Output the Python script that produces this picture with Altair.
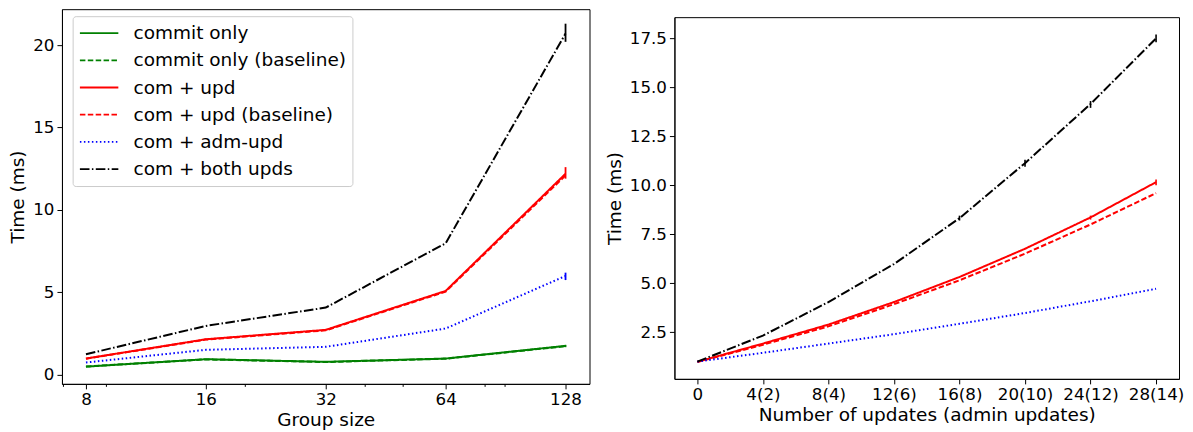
import altair as alt
import pandas as pd

FONT = "DejaVu Sans"
TICK_FS = 16.7
TITLE_FS = 18.5
LEGEND_FS = 18.5

# ---------------- Left panel data ----------------
group_sizes = [8, 16, 32, 64, 128]
left_series = ["commit only", "commit only (baseline)", "com + upd",
               "com + upd (baseline)", "com + adm-upd", "com + both upds"]
commit_only = [0.50, 0.95, 0.79, 0.99, 1.76]
commit_only_base = [0.51, 0.94, 0.78, 0.98, 1.74]
com_upd = [0.99, 2.16, 2.73, 5.09, 12.20]
com_upd_base = [0.98, 2.14, 2.70, 5.05, 12.10]
com_adm_upd = [0.75, 1.52, 1.70, 2.81, 6.00]
com_both_upds = [1.25, 2.97, 4.08, 7.98, 20.70]
left_colors = ["#008000", "#008000", "#ff0000", "#ff0000", "#0000ff", "#000000"]
left_dashes = [[1, 0], [5.5, 2.4], [1, 0], [5.5, 2.4], [1.5, 2.5], [9.6, 2.4, 1.5, 2.4]]

# error bars (left)
left_err_series = ["com + both upds", "com + upd", "com + adm-upd", "commit only"]
left_err_x = [128, 128, 128, 128]
left_err_lo = [20.2, 11.9, 5.75, 1.68]
left_err_hi = [21.3, 12.6, 6.2, 1.82]
left_minor_ticks = [7, 9, 20, 40, 50, 80, 90]

# ---------------- Right panel data ----------------
updates = [0, 4, 8, 12, 16, 20, 24, 28]
update_labels = ["0", "4(2)", "8(4)", "12(6)", "16(8)", "20(10)", "24(12)", "28(14)"]
right_series = ["com + upd", "com + upd (baseline)", "com + adm-upd", "com + both upds"]
r_com_upd = [0.99, 1.92, 2.89, 4.04, 5.32, 6.76, 8.36, 10.16]
r_com_upd_base = [0.98, 1.86, 2.80, 3.93, 5.15, 6.51, 8.00, 9.60]
r_com_adm_upd = [1.00, 1.45, 1.92, 2.40, 2.93, 3.48, 4.08, 4.72]
r_com_both_upds = [1.00, 2.33, 4.04, 5.98, 8.32, 11.13, 14.15, 17.50]
right_colors = ["#ff0000", "#ff0000", "#0000ff", "#000000"]
right_dashes = [[1, 0], [5.5, 2.4], [1.5, 2.5], [9.6, 2.4, 1.5, 2.4]]

right_err_series = ["com + both upds", "com + both upds", "com + both upds", "com + both upds",
                    "com + upd", "com + upd"]
right_err_x = [16, 20, 24, 28, 24, 28]
right_err_lo = [8.2, 10.95, 13.95, 17.3, 8.25, 10.0]
right_err_hi = [8.45, 11.3, 14.3, 17.7, 8.45, 10.3]

# ---------------- Build tables ----------------
left_vals = [commit_only, commit_only_base, com_upd, com_upd_base, com_adm_upd, com_both_upds]
left_df = pd.DataFrame([
    {"series": s, "size": x, "time": v, "order": i}
    for i, (s, vals) in enumerate(zip(left_series, left_vals))
    for x, v in zip(group_sizes, vals)
])
lcmap = dict(zip(left_series, left_colors))
left_err_df = pd.DataFrame({
    "series": left_err_series, "size": left_err_x, "lo": left_err_lo, "hi": left_err_hi,
    "col": [lcmap[s] for s in left_err_series],
})
left_minor_df = pd.DataFrame({"size": left_minor_ticks})

right_vals = [r_com_upd, r_com_upd_base, r_com_adm_upd, r_com_both_upds]
right_df = pd.DataFrame([
    {"series": s, "upd": x, "time": v}
    for s, vals in zip(right_series, right_vals)
    for x, v in zip(updates, vals)
])
rcmap = dict(zip(right_series, right_colors))
right_err_df = pd.DataFrame({
    "series": right_err_series, "upd": right_err_x, "lo": right_err_lo, "hi": right_err_hi,
    "col": [rcmap[s] for s in right_err_series],
})

label_expr = " : ".join(
    f"datum.value == {v} ? '{l}'" for v, l in zip(updates, update_labels)
) + " : ''"


def make_legend(x, y, row_pad):
    return alt.Legend(
        orient="none", legendX=x, legendY=y, title=None,
        symbolType="stroke", symbolSize=1480, symbolStrokeWidth=1.8,
        labelFontSize=LEGEND_FS, labelFont=FONT, labelColor="black",
        labelOffset=14, clipHeight=22, rowPadding=row_pad, padding=6,
        fillColor="white", strokeColor="#cccccc", cornerRadius=3,
        labelLimit=400,
    )


# ---------------- Left chart ----------------
lx_scale = alt.Scale(type="log", base=2, domain=[6.964, 147.03], nice=False)
ly_scale = alt.Scale(domain=[-0.545, 22.18], nice=False, zero=False)
left_legend = make_legend(10.7, 7.0, 5.2)

left_lines = alt.Chart(left_df).mark_line(strokeWidth=2, strokeCap="butt").encode(
    x=alt.X("size:Q", scale=lx_scale,
            axis=alt.Axis(values=group_sizes, title="Group size", format="d",
                          titlePadding=2)),
    y=alt.Y("time:Q", scale=ly_scale,
            axis=alt.Axis(values=[0, 5, 10, 15, 20], title="Time (ms)", titlePadding=5)),
    color=alt.Color("series:N", scale=alt.Scale(domain=left_series, range=left_colors),
                    legend=left_legend),
    strokeDash=alt.StrokeDash("series:N", scale=alt.Scale(domain=left_series, range=left_dashes),
                              legend=left_legend),
    order="order:Q",
)
left_err = alt.Chart(left_err_df).mark_rule(strokeWidth=1.8).encode(
    x=alt.X("size:Q", scale=lx_scale, axis=None),
    y=alt.Y("lo:Q", scale=ly_scale),
    y2="hi:Q",
    color=alt.Color("col:N", scale=None),
)
left_minor = alt.Chart(left_minor_df).mark_point(opacity=0).encode(
    x=alt.X("size:Q", scale=lx_scale,
            axis=alt.Axis(values=left_minor_ticks, labels=False, tickSize=2.5,
                          domain=False, title=None, orient="bottom")),
)
left = alt.layer(left_lines, left_err, left_minor).resolve_axis(x="independent").properties(
    width=528, height=375
)

# ---------------- Right chart ----------------
rx_scale = alt.Scale(domain=[-1.4, 29.4], nice=False, zero=False)
ry_scale = alt.Scale(domain=[0.12, 18.58], nice=False, zero=False)
right_legend = make_legend(9, 9.3, 4.8)

right_lines = alt.Chart(right_df).mark_line(strokeWidth=2, strokeCap="butt").encode(
    x=alt.X("upd:Q", scale=rx_scale,
            axis=alt.Axis(values=updates, labelExpr=label_expr,
                          title="Number of updates (admin updates)", titlePadding=2)),
    y=alt.Y("time:Q", scale=ry_scale,
            axis=alt.Axis(values=[2.5, 5, 7.5, 10, 12.5, 15, 17.5], format=".1f",
                          title="Time (ms)", titlePadding=5)),
    color=alt.Color("series:N", scale=alt.Scale(domain=right_series, range=right_colors),
                    legend=right_legend),
    strokeDash=alt.StrokeDash("series:N", scale=alt.Scale(domain=right_series, range=right_dashes),
                              legend=right_legend),
)
right_err = alt.Chart(right_err_df).mark_rule(strokeWidth=1.6).encode(
    x=alt.X("upd:Q", scale=rx_scale),
    y=alt.Y("lo:Q", scale=ry_scale),
    y2="hi:Q",
    color=alt.Color("col:N", scale=None),
)
right = alt.layer(right_lines, right_err).properties(width=505, height=362)

# invisible spacer to push the right panel down a few pixels
spacer = alt.Chart(pd.DataFrame({"a": [0]})).mark_rule(strokeWidth=0, opacity=0).encode(
    x=alt.value(0), y=alt.value(0), y2=alt.value(1)
).properties(width=1, height=1, view=alt.ViewBackground(stroke="transparent"))

right_col = alt.vconcat(spacer, right, spacing=5)

chart = alt.hconcat(left, right_col, spacing=14).configure(
    font=FONT, padding=0,
).configure_view(
    stroke="black", strokeWidth=1,
).configure_axis(
    labelFont=FONT, titleFont=FONT, labelFontSize=TICK_FS, titleFontSize=TITLE_FS,
    titleFontWeight="normal", labelColor="black", titleColor="black",
    tickColor="black", domainColor="black", tickSize=5, labelPadding=3, grid=False,
)

chart.save("out.html", embed_options={"renderer": "svg", "actions": False})
